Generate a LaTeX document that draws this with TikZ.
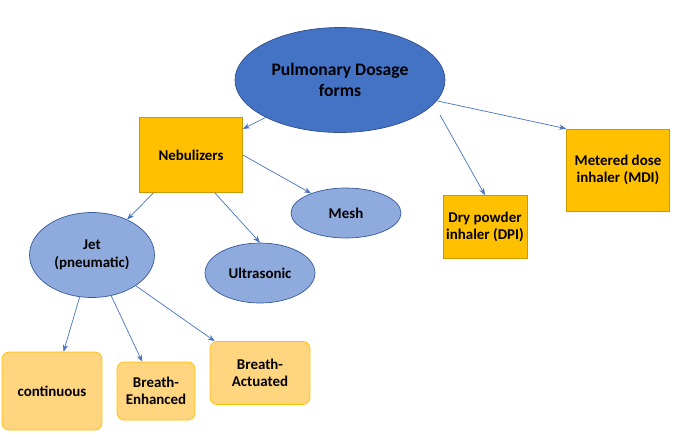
\documentclass[tikz,border=0pt]{standalone}
\usepackage{fontspec}
\setmainfont{Carlito}
\usetikzlibrary{positioning, shapes.geometric, arrows.meta}
\definecolor{dblue}{HTML}{4472C4}
\definecolor{lblue}{HTML}{8FAADC}
\definecolor{gold}{HTML}{FFC000}
\definecolor{lgold}{HTML}{FFD580}
\tikzset{txt/.style={font=\fontsize{8.5}{10}\selectfont\bfseries, align=center}}
\tikzset{bigell/.style={txt, font=\fontsize{10}{12}\selectfont\bfseries, ellipse, draw=dblue!70!black, fill=dblue, inner sep=0pt}}
\tikzset{smell/.style={txt, ellipse, draw=dblue!80!black, fill=lblue, inner sep=0pt}}
\tikzset{gbox/.style={txt, draw=gold!80!black, fill=gold, inner sep=0pt}}
\tikzset{lbox/.style={txt, draw=gold, fill=lgold, rounded corners=4, inner sep=0pt}}
\tikzset{arr/.style={draw=dblue, -{Stealth[length=4pt]}, thin}}
\begin{document}
\begin{tikzpicture}[x=0.02cm, y=-0.02cm]
			\useasboundingbox (0,0) rectangle (685,437);
			\node[bigell, minimum width=4.2cm, minimum height=2.1cm] (pdf) at (340,80) {Pulmonary Dosage\\forms};
			\node[gbox, minimum width=2.06cm, minimum height=1.5cm] (neb) at (191,155) {Nebulizers};
			\node[gbox, minimum width=2.06cm, minimum height=1.64cm] (mdi) at (618,170) {Metered dose\\inhaler (MDI)};
			\node[gbox, minimum width=1.68cm, minimum height=1.26cm] (dpi) at (485,227) {Dry powder\\inhaler (DPI)};
			%
			\node[smell, minimum width=2.2cm, minimum height=1cm] (mesh) at (346,213) {Mesh};
			\node[smell, minimum width=2.2cm, minimum height=1.2cm] (ultra) at (260,273) {Ultrasonic};
			\node[smell, minimum width=2.5cm, minimum height=1.7cm] (jet) at (92,255) {Jet\\(pneumatic)};
			%
			\node[lbox, minimum width=2cm, minimum height=1.56cm] (cont) at (52,391) {continuous};
			\node[lbox, minimum width=1.56cm, minimum height=1.16cm] (benh) at (156,391) {Breath-\\Enhanced};
			\node[lbox, minimum width=2cm, minimum height=1.26cm] (bact) at (260,373) {Breath-\\Actuated};
			%
			\draw[arr] (pdf) -- (neb);
			\coordinate (p1) at (440,115);
			\draw[arr] (p1) -- (dpi.north);
			\draw[arr] (pdf) -- (mdi.north west);
			\draw[arr] (neb) -- (jet);
			\draw[arr] (neb.south east) ++(-28,0) coordinate (n1) (n1) -- (ultra.north);
			\draw[arr] (neb.east) -- (mesh);
			\draw[arr] (jet) -- (cont);
			\draw[arr] (jet) -- (benh);
			\draw[arr] (jet) -- (bact);
\end{tikzpicture}
\end{document}
